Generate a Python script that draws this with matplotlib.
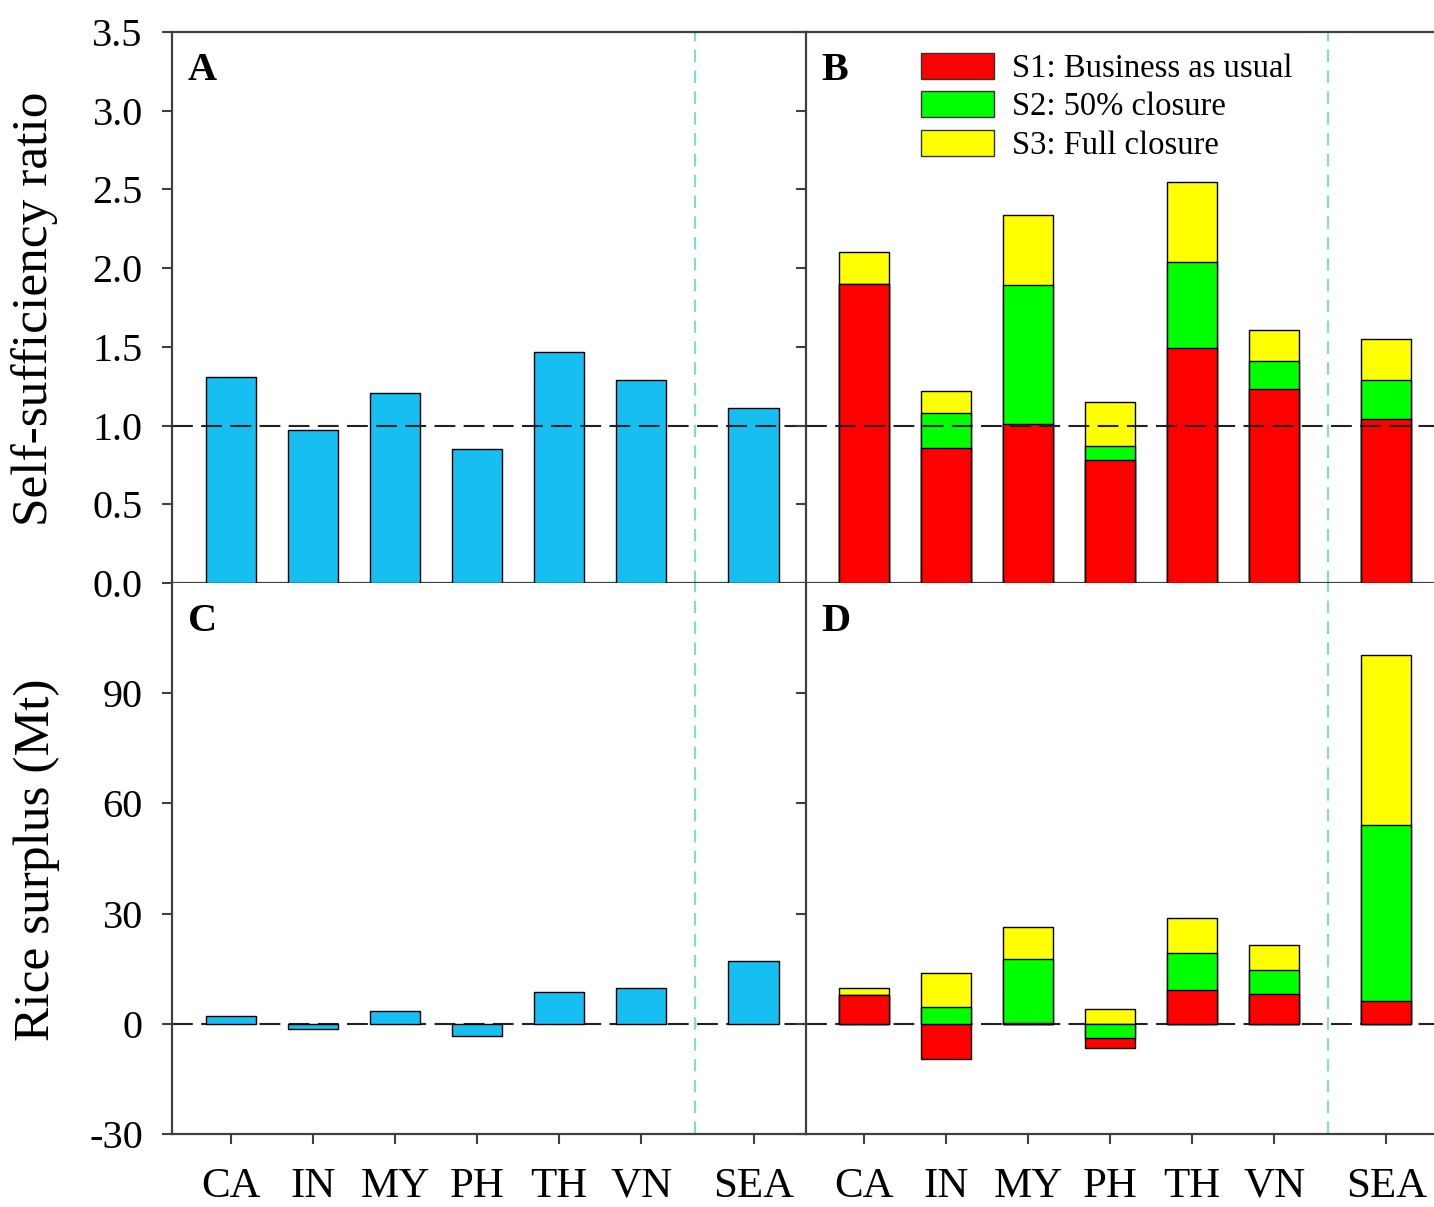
import matplotlib.pyplot as plt

plt.rcParams['font.family'] = ['Liberation Serif', 'DejaVu Serif']
plt.rcParams['axes.unicode_minus'] = False

# Country codes and x positions (SEA set apart from the rest)
countries = ['CA', 'IN', 'MY', 'PH', 'TH', 'VN', 'SEA']
xpos = [0, 1, 2, 3, 4, 5, 6.37]

# A: current self-sufficiency ratio
ssr_now = [1.31, 0.975, 1.21, 0.85, 1.465, 1.29, 1.11]
# B: self-sufficiency ratio under scenarios
ssr_s1 = [1.90, 0.86, 1.01, 0.78, 1.49, 1.23, 1.04]
ssr_s2 = [1.90, 1.08, 1.89, 0.87, 2.04, 1.41, 1.29]
ssr_s3 = [2.10, 1.22, 2.34, 1.15, 2.55, 1.61, 1.55]
# C: current rice surplus (Mt)
surplus_now = [2.2, -1.4, 3.5, -3.3, 8.7, 9.8, 17.2]
# D: rice surplus under scenarios (Mt)
surplus_s1 = [7.9, -9.5, 0.1, -6.5, 9.3, 8.2, 6.3]
surplus_s2 = [7.9, 4.6, 17.7, -3.8, 19.4, 14.7, 54.0]
surplus_s3 = [9.8, 13.9, 26.4, 4.1, 28.9, 21.5, 100.5]

scen_labels = ['S1: Business as usual', 'S2: 50% closure', 'S3: Full closure']
scen_colors = ['#ff0000', '#00ff00', '#ffff00']
blue = '#17bef2'
spine_col = '#404040'

W, H = 1434, 1207
fig = plt.figure(figsize=(W / 100, H / 100), dpi=100)


def px_axes(x0, y0, x1, y1):
    return fig.add_axes([x0 / W, 1 - y1 / H, (x1 - x0) / W, (y1 - y0) / H])


axA = px_axes(172, 32, 806, 583)
axB = px_axes(806, 32, 1434, 583)
axC = px_axes(172, 583, 806, 1134)
axD = px_axes(806, 583, 1434, 1134)

bw = 0.61
for ax in (axA, axB, axC, axD):
    ax.spines['right'].set_visible(False)
    for s in ('left', 'top', 'bottom'):
        ax.spines[s].set_color(spine_col)
        ax.spines[s].set_linewidth(1.6)
    ax.tick_params(direction='out', length=7, width=1.5, color=spine_col,
                   labelsize=29, pad=14)
    ax.set_xticks(xpos)

axA.set_xlim(-0.72, 7.01)
axC.set_xlim(-0.72, 7.01)
axB.set_xlim(-0.71, 6.95)
axD.set_xlim(-0.71, 6.95)

for ax in (axA, axB):
    ax.set_ylim(0, 3.5)
    ax.set_yticks([0, 0.5, 1.0, 1.5, 2.0, 2.5, 3.0, 3.5])
    ax.tick_params(axis='x', bottom=False, labelbottom=False)
    ax.axhline(1.0, color='#222222', lw=1.5, ls=(0, (10, 4)), zorder=20)
axA.set_yticklabels(['%.1f' % v for v in axA.get_yticks()])
axB.tick_params(axis='y', labelleft=False)

for ax in (axC, axD):
    ax.set_ylim(-30, 120)
    ax.set_yticks([-30, 0, 30, 60, 90])
    ax.spines['top'].set_visible(False)
    ax.axhline(0, color='#222222', lw=1.5, ls=(0, (10, 4)), zorder=0)
    ax.set_xticklabels(countries, fontsize=31)
    ax.tick_params(axis='x', pad=17)
axD.tick_params(axis='y', labelleft=False)

for ax in (axA, axB, axC, axD):
    ax.axvline((xpos[5] + xpos[6]) / 2 - 0.025, color='#7fdcd2', lw=1.5,
               ls=(0, (6, 4)), zorder=1)

# A and C: single bars
axA.bar(xpos, ssr_now, bw, color=blue, edgecolor='black', lw=1, zorder=5)
axC.bar(xpos, surplus_now, bw, color=blue, edgecolor='black', lw=1, zorder=5)

# B and D: overlapping scenario bars, biggest magnitude at the back,
# ties resolved so that the lower scenario sits in front
for ax, series in ((axB, (ssr_s1, ssr_s2, ssr_s3)),
                   (axD, (surplus_s1, surplus_s2, surplus_s3))):
    for i, x in enumerate(xpos):
        vals = [s[i] for s in series]
        order = sorted(range(3), key=lambda k: (-abs(vals[k]), -k))
        for rank, k in enumerate(order):
            ax.bar(x, vals[k], bw, color=scen_colors[k], edgecolor='black',
                   lw=1, zorder=5 + rank)

handles = [plt.Rectangle((0, 0), 1, 1, facecolor=c, edgecolor='#333333', lw=1)
           for c in scen_colors]
axB.legend(handles, scen_labels, loc='upper left', bbox_to_anchor=(0.152, 0.998),
           frameon=False, fontsize=23.5, handlelength=2.25, handleheight=0.85,
           labelspacing=0.22, handletextpad=0.55, borderaxespad=0.2)

for ax, letter in ((axA, 'A'), (axB, 'B'), (axC, 'C'), (axD, 'D')):
    ax.text(0.025, 0.93, letter, transform=ax.transAxes, fontsize=29,
            fontweight='bold', va='center', ha='left', zorder=30)

fig.text(35 / W, 1 - 309 / H, 'Self-sufficiency ratio', rotation=90,
         fontsize=37, ha='center', va='center')
fig.text(37 / W, 1 - 860 / H, 'Rice surplus (Mt)', rotation=90,
         fontsize=37, ha='center', va='center')

fig.savefig('out.png', dpi=100)
